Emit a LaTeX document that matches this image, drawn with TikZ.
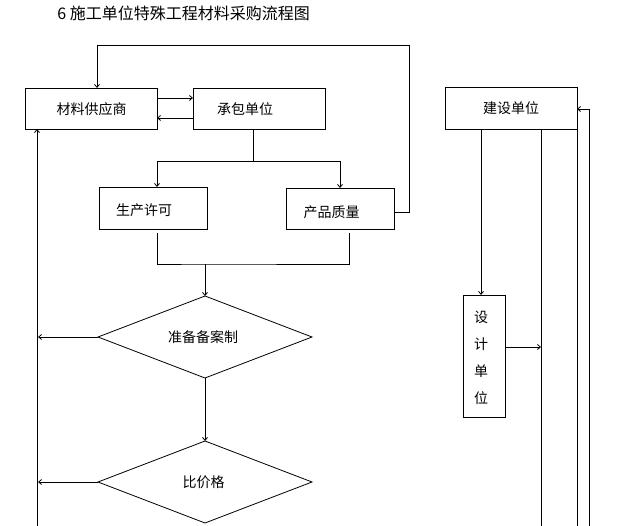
\documentclass[tikz,border=0pt]{standalone}
\usepackage{fontspec}
\setmainfont{Noto Sans CJK SC}
\usetikzlibrary{arrows.meta,shapes.geometric}
\begin{document}
\begin{tikzpicture}[x=1pt,y=-1pt,line width=0.8pt,
  box/.style={draw,rectangle,inner sep=0pt,outer sep=0pt,anchor=north west},
  dia/.style={draw,diamond,inner sep=0pt,outer sep=0pt,minimum width=214pt,minimum height=82pt},
  lbl/.style={font=\fontsize{14}{16}\selectfont,inner sep=0pt},
  arr/.style={-{Straight Barb[length=3pt,width=5pt]}}]
\useasboundingbox (0,0) rectangle (618,526);
% title
\node[anchor=west,inner sep=0pt,font=\fontsize{16}{18}\selectfont] (title) at (57,13) {6 施工单位特殊工程材料采购流程图};
% boxes
\node[box,minimum width=132pt,minimum height=41pt] (sup) at (25,88) {};
\node[box,minimum width=132pt,minimum height=41pt] (con) at (193,88) {};
\node[box,minimum width=108pt,minimum height=42pt] (prod) at (99,187) {};
\node[box,minimum width=108pt,minimum height=41pt] (qual) at (286,188) {};
\node[dia] (d1) at (205,337) {};
\node[dia] (d2) at (205,482) {};
\node[box,minimum width=132pt,minimum height=42pt] (own) at (445,87) {};
\node[box,minimum width=42pt,minimum height=122pt] (des) at (463,295) {};
% labels
\node[lbl] (tsup) at (91.5,109.5) {材料供应商};
\node[lbl] (tcon) at (245,109.5) {承包单位};
\node[lbl] (tprod) at (144,210) {生产许可};
\node[lbl] (tqual) at (331.5,212) {产品质量};
\node[lbl] (td1) at (203,337) {准备备案制};
\node[lbl] (td2) at (203.5,482) {比价格};
\node[lbl] (town) at (511,108.5) {建设单位};
\node[lbl,align=center,font=\fontsize{14}{27}\selectfont] (tdes) at (481,357.5) {设\\计\\单\\位};
% coordinates
\coordinate (split) at (253,161);
\coordinate (mL) at (157,233);
\coordinate (mR) at (349,233);
\coordinate (merge) at (205,264);
\coordinate (loopR) at (409,45);
\coordinate (botL) at (37,526);
\coordinate (bot1) at (541,526);
\coordinate (bot2) at (577,526);
\coordinate (bot3) at (589,526);
% connectors
\draw[arr] (sup.east |- 0,98) -- (con.west |- 0,98);
\draw[arr] (con.west |- 0,118) -- (sup.east |- 0,118);
\draw[arr] (qual.east |- 0,212) -| (loopR) -| (sup.north -| 97,0);
\draw (con.south -| split) -- (split);
\draw[arr] (split) -| (prod.north -| mL);
\draw[arr] (split) -| (qual.north -| 340,0);
\draw (mL) |- (merge) -| (mR);
\draw[arr] (merge) -- (d1.north);
\draw[arr] (d1.south) -- (d2.north);
\draw[arr] (d1.west) -- (d1.west -| 38,0);
\draw[arr] (d2.west) -- (d2.west -| 38,0);
\draw[arr] (botL) -- (sup.south -| botL);
\draw[arr] (own.south -| 481,0) -- (des.north -| 481,0);
\draw[arr] (des.east |- 0,347) -- (bot1 |- 0,347);
\draw (own.south -| bot1) -- (bot1);
\draw (own.south east) -- (bot2);
\draw[arr] (bot3) |- (own.east |- 0,109);
\end{tikzpicture}
\end{document}
